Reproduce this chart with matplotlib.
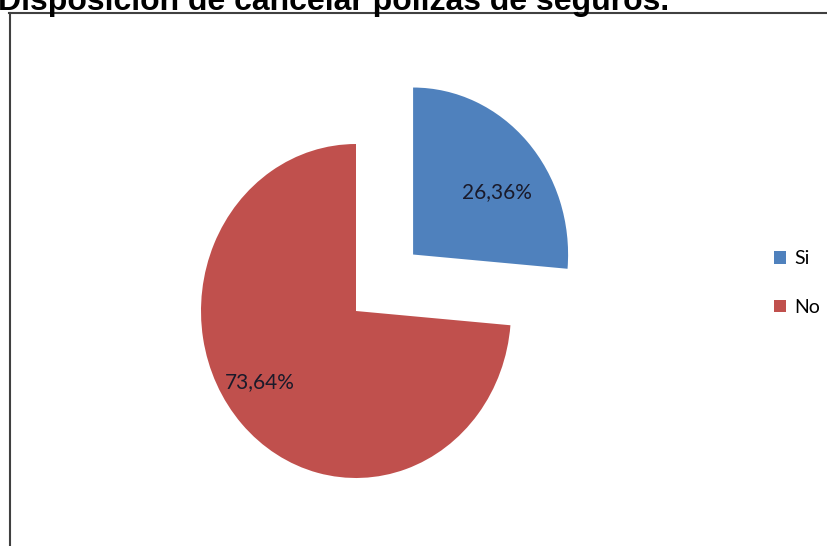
import numpy as np
import matplotlib
matplotlib.use("Agg")
import matplotlib.pyplot as plt
from matplotlib.lines import Line2D

# Respuestas a la encuesta
categorias = ['Si', 'No']
porcentajes = [26.36, 73.64]
colores = ['#4F81BD', '#C0504D']
separacion = [0.5, 0.0]

W, H = 828, 546
fig = plt.figure(figsize=(W / 100, H / 100), dpi=100)

# Titulo (queda recortado arriba, igual que en el informe)
fig.text(-0.002, 1 - 10 / H, 'Disposición de cancelar pólizas de seguros.',
         fontsize=23, fontweight='bold', family='Liberation Sans',
         ha='left', va='baseline')

# Marco del area del grafico
fig.add_artist(Line2D([9.5 / W, 9.5 / W], [0, 1 - 13 / H], transform=fig.transFigure,
                      color='#404040', lw=1.5))
fig.add_artist(Line2D([9 / W, 1], [1 - 13 / H, 1 - 13 / H], transform=fig.transFigure,
                      color='#404040', lw=1.5))

ax = fig.add_axes([0, 0, 1, 1])
wedges, textos, pcts = ax.pie(
    porcentajes, colors=colores, explode=separacion, startangle=90,
    counterclock=False, labels=None,
    autopct=lambda p: f'{p:.2f}%'.replace('.', ','), pctdistance=0.7,
    textprops=dict(fontsize=15, family='Lato', color='#1a1a2a'))

# Etiquetas algo giradas respecto al centro de cada sector
dist_etiqueta = [0.66, 0.75]
for w, t, d in zip(wedges, pcts, dist_etiqueta):
    ang = np.deg2rad((w.theta1 + w.theta2) / 2 - 8)
    x0, y0 = w.center
    t.set_position((x0 + d * np.cos(ang), y0 + d * np.sin(ang)))

# Escala: radio 155 px en horizontal y 167 px en vertical
cx, cy = 356, 311
rx, ry = 155, 167
ax.set_aspect('auto')
ax.set_xlim(-cx / rx, (W - cx) / rx)
ax.set_ylim(-(H - cy) / ry, cy / ry)
ax.axis('off')

fig.legend(wedges, categorias, loc='center left',
           bbox_to_anchor=(757 / W, 1 - 283 / H), frameon=False,
           handlelength=0.6, handleheight=0.6, handletextpad=0.4,
           labelspacing=1.6, prop=dict(family='Lato', size=14))

fig.savefig('out.png', dpi=100)
